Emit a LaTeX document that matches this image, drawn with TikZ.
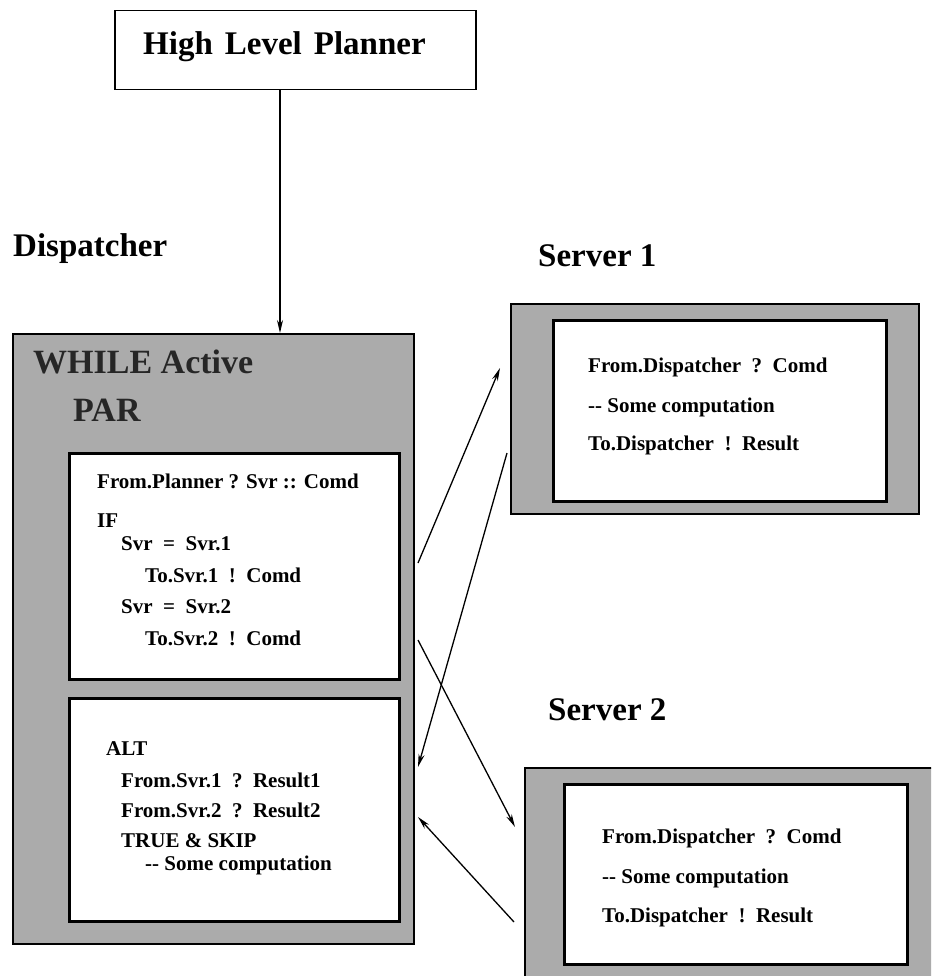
\documentclass[tikz,border=0pt]{standalone}
\usepackage{fontspec}
\setmainfont{Liberation Serif}
\usetikzlibrary{arrows.meta}
\begin{document}
\begin{tikzpicture}[x=1pt,y=-1pt,
  shaded/.style={draw=black, line width=2pt, fill=black!33, inner sep=0pt, anchor=north west},
  whitebox/.style={draw=black, line width=2.5pt, fill=white, inner sep=0pt, anchor=north west},
  plainbox/.style={draw=black, line width=1.5pt, fill=white, inner sep=0pt, anchor=north west},
  big/.style={font=\fontsize{33}{36}\selectfont\bfseries, inner sep=0pt, anchor=base west},
  head/.style={font=\fontsize{34}{36}\selectfont\bfseries, inner sep=0pt, anchor=base west, text=black!85},
  code/.style={font=\fontsize{21}{24}\selectfont\bfseries, inner sep=0pt, anchor=base west},
  conn/.style={line width=1.3pt, -{Stealth[length=13pt,width=6pt]}}]
\path[use as bounding box] (0,0) rectangle (931,976);
\clip (0,0) rectangle (931,976);
\fill[white] (0,0) rectangle (931,976);

% planner
\node[plainbox, minimum width=361pt, minimum height=79pt] (planner) at (114,10) {};
\node[big] (plannertxt) at (143,55) {High\hspace{12pt}Level\hspace{12pt}Planner};

% labels
\node[big] (displbl) at (13,256) {Dispatcher};
\node[big] (s1lbl) at (538,266) {Server 1};
\node[big] (s2lbl) at (548,720) {Server 2};

% dispatcher
\node[shaded, minimum width=401pt, minimum height=610pt] (disp) at (12,333) {};
\node[head] (while) at (33,373) {WHILE Active};
\node[head] (par) at (73,421) {PAR};

\node[whitebox, minimum width=330pt, minimum height=226pt] (in1) at (68,452) {};
\node[whitebox, minimum width=330pt, minimum height=223pt] (in2) at (68,697) {};

\node[code] (l1) at (97,488) {From.Planner ? Svr :: Comd};
\node[code] (l2) at (97,527) {IF};
\node[code] (l3) at (121,550) {Svr\ \ =\ \ Svr.1};
\node[code] (l4) at (145,582) {To.Svr.1\ \ !\ \ Comd};
\node[code] (l5) at (121,613) {Svr\ \ =\ \ Svr.2};
\node[code] (l6) at (145,645) {To.Svr.2\ \ !\ \ Comd};

\node[code] (m1) at (106,755) {ALT};
\node[code] (m2) at (121,787) {From.Svr.1\ \ ?\ \ Result1};
\node[code] (m3) at (121,817) {From.Svr.2\ \ ?\ \ Result2};
\node[code] (m4) at (121,847) {TRUE \& SKIP};
\node[code] (m5) at (145,870) {-{}- Some computation};

% server 1
\node[shaded, minimum width=408pt, minimum height=210pt] (srv1) at (510,303) {};
\node[whitebox, minimum width=333pt, minimum height=181pt] (srv1in) at (552,319) {};
\node[code] (s1a) at (588,372) {From.Dispatcher\ \ ?\ \ Comd};
\node[code] (s1b) at (588,412) {-{}- Some computation};
\node[code] (s1c) at (588,450) {To.Dispatcher\ \ !\ \ Result};

% server 2
\node[shaded, minimum width=440pt, minimum height=240pt] (srv2) at (524,767) {};
\node[whitebox, minimum width=343pt, minimum height=180pt] (srv2in) at (563,783) {};
\node[code] (s2a) at (602,843) {From.Dispatcher\ \ ?\ \ Comd};
\node[code] (s2b) at (602,883) {-{}- Some computation};
\node[code] (s2c) at (602,922) {To.Dispatcher\ \ !\ \ Result};

% connectors
\coordinate (ax) at (280,0);
\draw[conn] (planner.south -| ax) -- (disp.north -| ax);

\coordinate (c1s) at (418,563);
\coordinate (c1e) at (500,368);
\coordinate (c2s) at (507,453);
\coordinate (c2e) at (418,767);
\coordinate (c3s) at (418,640);
\coordinate (c3e) at (515,827);
\coordinate (c4s) at (514,922);
\coordinate (c4e) at (418,817);
\draw[conn] (c1s) -- (c1e);
\draw[conn] (c2s) -- (c2e);
\draw[conn] (c3s) -- (c3e);
\draw[conn] (c4s) -- (c4e);
\end{tikzpicture}
\end{document}
